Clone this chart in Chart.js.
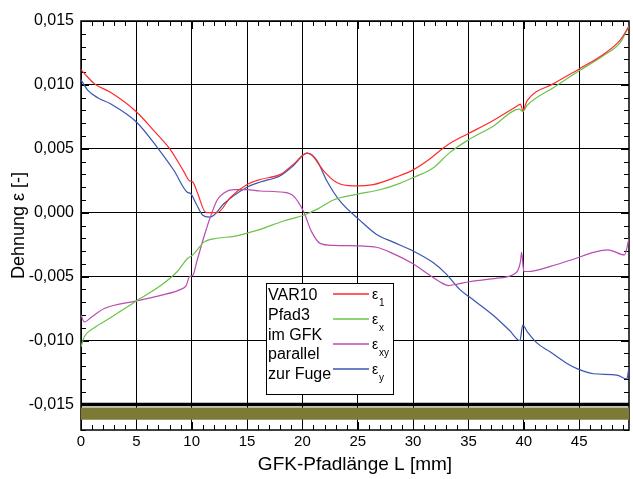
<!DOCTYPE html>
<html>
<head>
<meta charset="utf-8">
<script src="https://cdn.jsdelivr.net/npm/chart.js@4.4.0/dist/chart.umd.min.js"></script>
<style>
  html, body { margin: 0; padding: 0; background: #fff; }
</style>
</head>
<body>
<canvas id="chart" width="633" height="479"></canvas>
<script>
// Tick values
let xTicks = [0, 5, 10, 15, 20, 25, 30, 35, 40, 45];
let yTicks = [-0.015, -0.010, -0.005, 0, 0.005, 0.010, 0.015];

// eps_1 (red)
let e1X = [0, 0.3, 1.2, 2.7, 5.0, 6.6, 8.1, 9.3, 9.8, 10.1, 10.5, 11.3, 12.3, 13.5, 15.0, 16.2, 18.0, 19.2, 20.4, 20.8, 21.9, 23.1, 24.6, 26.4, 28.5, 30.0, 31.5, 32.7, 33.6, 35.0, 37.2, 39.5, 39.7, 39.9, 40.3, 42.7, 45.0, 47.2, 48.7, 49.5];
let e1Y = [0.0112, 0.0109, 0.0101, 0.0094, 0.0079, 0.0064, 0.0049, 0.0032, 0.0025, 0.0024, 0.0016, 0.0000, 0.0000, 0.0012, 0.0022, 0.0026, 0.0030, 0.0038, 0.00466, 0.00455, 0.0033, 0.00236, 0.0021, 0.0022, 0.0028, 0.00335, 0.0042, 0.00505, 0.00557, 0.0062, 0.0072, 0.0084, 0.0085, 0.0080, 0.00877, 0.0101, 0.01125, 0.0124, 0.0135, 0.0146];

// eps_x (green)
let exX = [0, 0.3, 1.2, 2.7, 5.0, 7.2, 8.7, 9.6, 10.1, 10.7, 11.1, 12.3, 13.8, 15.0, 16.2, 18.3, 20.1, 21.3, 22.8, 24.9, 27.0, 28.8, 30.0, 31.8, 33.3, 35.0, 37.2, 39.6, 39.9, 40.3, 42.7, 45.0, 47.2, 48.7, 49.5];
let exY = [-0.0105, -0.0097, -0.0090, -0.0082, -0.0069, -0.0057, -0.0046, -0.0036, -0.0033, -0.0027, -0.0023, -0.0020, -0.00185, -0.0016, -0.0013, -0.00065, -0.0002, 0.00026, 0.0010, 0.00144, 0.0018, 0.0023, 0.00275, 0.0035, 0.0047, 0.0057, 0.00675, 0.0081, 0.0079, 0.0084, 0.0098, 0.0111, 0.0123, 0.0133, 0.0146];

// eps_xy (magenta)
let exyX = [0, 0.3, 0.9, 2.1, 5.0, 7.2, 9.0, 9.5, 9.8, 10.1, 10.5, 11.1, 11.7, 12.3, 12.9, 13.8, 15.0, 16.2, 18.3, 19.2, 20.1, 20.8, 21.6, 22.8, 25.2, 26.7, 28.2, 30.0, 31.5, 32.4, 33.2, 33.9, 35.1, 37.8, 39.3, 39.7, 39.8, 40.0, 40.4, 42.4, 44.6, 46.3, 47.6, 49.1, 49.5];
let exyY = [-0.0080, -0.00855, -0.0082, -0.0075, -0.0069, -0.00647, -0.0060, -0.0057, -0.0050, -0.0049, -0.0037, -0.0019, -0.0003, 0.0010, 0.00154, 0.0018, 0.0018, 0.0017, 0.0016, 0.0013, 0.0001, -0.00144, -0.0024, -0.00256, -0.0026, -0.0027, -0.0032, -0.0040, -0.0049, -0.0054, -0.0057, -0.0056, -0.0054, -0.0051, -0.0047, -0.0038, -0.0031, -0.0046, -0.0046, -0.0042, -0.0036, -0.0031, -0.0029, -0.0033, -0.0020];

// eps_y (blue)
let eyX = [0, 0.6, 1.5, 2.7, 5.0, 6.9, 8.4, 9.6, 9.9, 10.4, 11.0, 11.6, 12.0, 12.9, 15.0, 16.2, 18.0, 19.2, 20.4, 21.3, 22.2, 23.4, 25.2, 26.7, 28.2, 30.0, 31.8, 33.0, 34.2, 35.1, 37.2, 38.7, 39.65, 39.9, 40.3, 41.2, 42.4, 43.9, 44.8, 46.3, 48.4, 49.3, 49.5];
let eyY = [0.0104, 0.0096, 0.0090, 0.0085, 0.0071, 0.0051, 0.0033, 0.0016, 0.0015, 0.0007, -0.0002, -0.00034, -0.0002, 0.0007, 0.0020, 0.0024, 0.0029, 0.0037, 0.00466, 0.0041, 0.0025, 0.0009, -0.0006, -0.0017, -0.0023, -0.0030, -0.0039, -0.0048, -0.0060, -0.0066, -0.0080, -0.0092, -0.0100, -0.0088, -0.0093, -0.0102, -0.0109, -0.0118, -0.0122, -0.0126, -0.0127, -0.0130, -0.0121];

// GFK layer band at the bottom
let bandX = [0, 49.5];
let bandLineY = [-0.015, -0.015];
let bandTopY = [-0.01524, -0.01524];
let bandBottomY = [-0.0162, -0.0162];

// Legend note text
let noteLines = ["VAR10", "Pfad3", "im GFK", "parallel", "zur Fuge"];

const FONT = "'Liberation Sans', Arial, sans-serif";

function toPoints(xs, ys) {
    return xs.map((x, i) => ({ x: x, y: ys[i] }));
}

function curve(label, sub, color, xs, ys) {
    return {
        label: label,
        legendSub: sub,
        data: toPoints(xs, ys),
        borderColor: color,
        borderWidth: 1.2,
        pointRadius: 0,
        cubicInterpolationMode: "monotone",
        fill: false
    };
}

// Inward ticks + frame round the plot area
const frameTicks = {
    id: "frameTicks",
    beforeDatasetsDraw(chart) {
        const { ctx, chartArea: a, scales: { x, y } } = chart;
        ctx.save();
        ctx.strokeStyle = "#000";
        ctx.lineWidth = 1;
        ctx.beginPath();
        for (let v = 0; v <= x.max; v += 1) {
            let px = Math.round(x.getPixelForValue(v)) + 0.5;
            let len = v % 5 === 0 ? 8 : 5;
            ctx.moveTo(px, a.bottom); ctx.lineTo(px, a.bottom - len);
            ctx.moveTo(px, a.top); ctx.lineTo(px, a.top + len);
        }
        for (let i = -17; i <= 15; i++) {
            let py = Math.round(y.getPixelForValue(i / 1000)) + 0.5;
            let len = i % 5 === 0 ? 8 : 5;
            ctx.moveTo(a.left, py); ctx.lineTo(a.left + len, py);
            ctx.moveTo(a.right, py); ctx.lineTo(a.right - len, py);
        }
        ctx.stroke();
        ctx.lineWidth = 1.5;
        ctx.strokeRect(a.left, a.top, a.right - a.left, a.bottom - a.top);
        ctx.restore();
    }
};

// Boxed legend with note text on the left
const boxLegend = {
    id: "boxLegend",
    afterDraw(chart) {
        const { ctx, chartArea: a } = chart;
        let bx = a.left + 185, by = a.top + 262, bw = 127, bh = 111;
        ctx.save();
        ctx.fillStyle = "#fff";
        ctx.fillRect(bx, by, bw, bh);
        ctx.strokeStyle = "#000";
        ctx.lineWidth = 1;
        ctx.strokeRect(bx + 0.5, by + 0.5, bw, bh);

        ctx.fillStyle = "#000";
        ctx.font = "16px " + FONT;
        ctx.textBaseline = "middle";
        ctx.textAlign = "left";
        noteLines.forEach((t, i) => ctx.fillText(t, bx + 2, by + 13 + i * 19.6));

        let items = chart.data.datasets.filter(d => d.legendSub);
        items.forEach((d, i) => {
            let ly = by + 11 + i * 25;
            ctx.strokeStyle = d.borderColor;
            ctx.lineWidth = 1.5;
            ctx.beginPath();
            ctx.moveTo(bx + 67, ly);
            ctx.lineTo(bx + 103, ly);
            ctx.stroke();
            ctx.fillStyle = "#000";
            ctx.textBaseline = "alphabetic";
            ctx.font = "14px " + FONT;
            ctx.fillText("ε", bx + 106, ly + 5);
            ctx.font = "10px " + FONT;
            ctx.fillText(d.legendSub, bx + 113, ly + 12);
        });
        ctx.restore();
    }
};

const chart = new Chart(document.getElementById("chart"), {
    type: "line",
    data: {
        datasets: [
            { label: "band", data: toPoints(bandX, bandTopY), borderWidth: 0, pointRadius: 0, fill: "+1", backgroundColor: "#7c7a35" },
            { label: "band2", data: toPoints(bandX, bandBottomY), borderWidth: 0, pointRadius: 0, fill: false },
            { label: "line", data: toPoints(bandX, bandLineY), borderColor: "#000", borderWidth: 3.5, pointRadius: 0, fill: false },
            curve("ε1", "1", "#ff2a2a", e1X, e1Y),
            curve("εx", "x", "#6cc24a", exX, exY),
            curve("εxy", "xy", "#b84cb0", exyX, exyY),
            curve("εy", "y", "#3a55b4", eyX, eyY)
        ]
    },
    options: {
        responsive: false,
        animation: false,
        devicePixelRatio: 1,
        layout: { padding: { top: 21, right: 4, left: 0, bottom: 0 } },
        plugins: {
            legend: { display: false },
            tooltip: { enabled: false }
        },
        scales: {
            x: {
                type: "linear",
                min: 0,
                max: 49.5,
                afterBuildTicks: s => { s.ticks = xTicks.map(v => ({ value: v })); },
                afterFit: s => { s.height = 49; },
                grid: { color: "#000", lineWidth: 1, drawTicks: false },
                border: { display: false },
                ticks: { color: "#000", font: { family: FONT, size: 15 }, padding: 3, maxRotation: 0, autoSkip: false },
                title: { display: true, text: "GFK-Pfadlänge L [mm]", color: "#000", font: { family: FONT, size: 19 }, padding: { top: 0, bottom: 3 } }
            },
            y: {
                type: "linear",
                min: -0.017,
                max: 0.015,
                afterBuildTicks: s => { s.ticks = yTicks.map(v => ({ value: v })); },
                afterFit: s => { s.width = 81; },
                grid: { color: "#000", lineWidth: 1, drawTicks: false },
                border: { display: false },
                ticks: {
                    color: "#000",
                    font: { family: FONT, size: 16 },
                    padding: 7,
                    callback: v => v.toFixed(3).replace(".", ",")
                },
                title: { display: true, text: "Dehnung ε [-]", color: "#000", font: { family: FONT, size: 18 }, padding: { top: 8, bottom: 0 } }
            }
        }
    },
    plugins: [frameTicks, boxLegend]
});
</script>
</body>
</html>
